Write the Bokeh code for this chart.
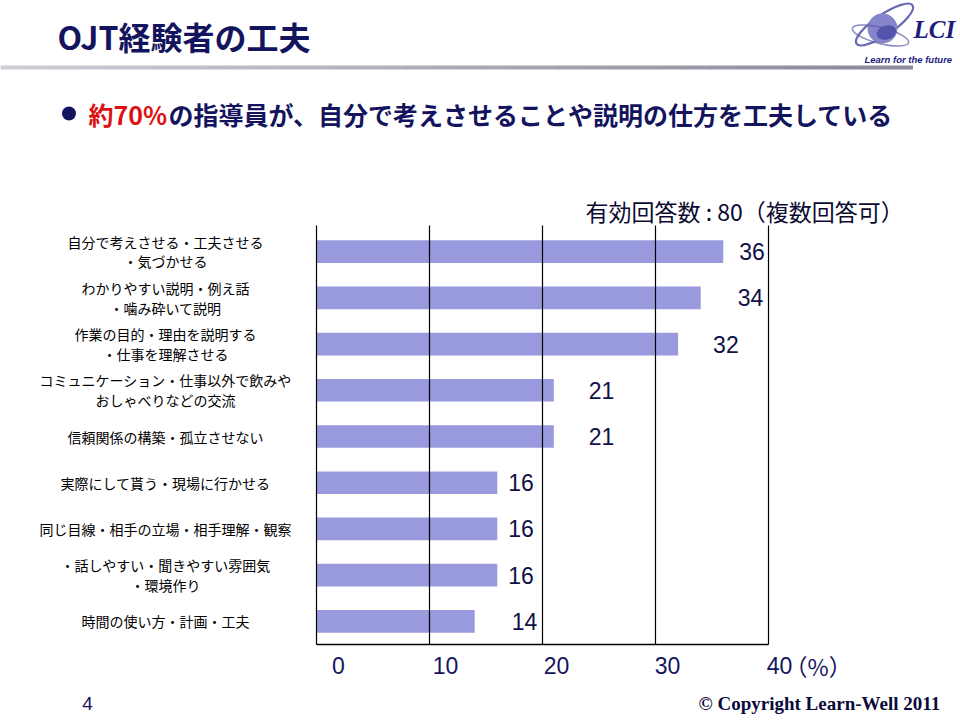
import numpy as np
from bokeh.plotting import figure
from bokeh.models import ColumnDataSource, Range1d
from bokeh.core.properties import value
from bokeh.embed import file_html
from bokeh.resources import INLINE

# ---------------- data ----------------
categories = [
    "自分で考えさせる・工夫させる\n・気づかせる",
    "わかりやすい説明・例え話\n・噛み砕いて説明",
    "作業の目的・理由を説明する\n・仕事を理解させる",
    "コミュニケーション・仕事以外で飲みや\nおしゃべりなどの交流",
    "信頼関係の構築・孤立させない",
    "実際にして貰う・現場に行かせる",
    "同じ目線・相手の立場・相手理解・観察",
    "・話しやすい・聞きやすい雰囲気\n・環境作り",
    "時間の使い方・計画・工夫",
]
counts = [36, 34, 32, 21, 21, 16, 16, 16, 14]
value_labels = ["36", "34", "32", "21", "21", "16", "16", "16", "14"]
x_ticks = [0, 10, 20, 30, 40]
tick_labels = ["0", "10", "20", "30", "40"]

title_text = "OJT経験者の工夫"
headline_red = "約70%"
headline_rest = "の指導員が、自分で考えさせることや説明の仕方を工夫している"
note_text = "有効回答数 : 80（複数回答可）"
unit_text = "（%）"
page_no = "4"
copyright_text = "© Copyright Learn-Well 2011"

# ---------------- style / layout ----------------
JP = "Noto Sans CJK JP"
SANS = "Liberation Sans"
SERIF = "Liberation Serif"
NAVY = "#14145e"
DARK = "#101048"
BAR = "#9999dd"

W, H = 960, 720
PLOT_L, PLOT_R, PLOT_T, PLOT_B = 316, 768, 228, 644
VAL_MAX = x_ticks[-1]
px_per_val = (PLOT_R - PLOT_L) / VAL_MAX
n_cat = len(categories)
px_per_cat = (PLOT_B - PLOT_T) / n_cat

p = figure(width=W, height=H,
           x_range=Range1d(0, W), y_range=Range1d(H, 0),
           output_backend="svg", toolbar_location=None, min_border=0,
           x_axis_location=None, y_axis_location=None)
p.grid.visible = False
p.outline_line_color = None
p.background_fill_color = "white"
p.border_fill_color = "white"

# chart scales (value axis and category axis)
p.extra_x_ranges = {"val": Range1d(-PLOT_L / px_per_val,
                                   VAL_MAX + (W - PLOT_R) / px_per_val)}
p.extra_y_ranges = {"cat": Range1d(n_cat - 0.5 + (H - PLOT_B) / px_per_cat,
                                   -0.5 - PLOT_T / px_per_cat)}

cat_pos = list(range(n_cat))
src = ColumnDataSource(dict(pos=cat_pos, cat=categories, val=counts, lab=value_labels,
                            dx=[16, 37, 35, 35, 35, 11, 11, 11, 37]))

# ---------------- header ----------------
p.text(x=[57], y=[35], text=[title_text], text_font=value(JP), text_font_style="bold",
       text_font_size="32px", text_color=NAVY, text_baseline="middle", text_align="left")

n = 36
edges = np.linspace(0, 912, n + 1)
c0 = np.array([205, 205, 212]); c1 = np.array([138, 138, 154])
cols = ["#%02x%02x%02x" % tuple(int(v) for v in (c0 + (c1 - c0) * (i / (n - 1)))) for i in range(n)]
p.quad(left=edges[:-1], right=edges[1:] + 0.5, top=[65] * n, bottom=[69] * n,
       fill_color=cols, line_color=None)

# logo
p.ellipse(x=[884], y=[24], width=[68], height=[20], angle=[0.6],
          fill_color=None, line_color="#6b6bb5", line_width=2.2)
p.circle(x=[882], y=[28], radius=15, fill_color="#8585cc", line_color=None)
p.ellipse(x=[886], y=[32], width=[20], height=[14], angle=[0.3],
          fill_color="#4a4aa6", line_color=None, fill_alpha=0.85)
p.ellipse(x=[880], y=[35], width=[58], height=[16], angle=[-0.25],
          fill_color=None, line_color="#5a5aa8", line_width=1.5, line_alpha=0.7)
p.text(x=[913], y=[29], text=["LCI"], text_font=value(SERIF), text_font_style="bold italic",
       text_font_size="25px", text_color="#1c1c80", text_baseline="middle", text_align="left")
p.text(x=[864], y=[59], text=["Learn for the future"], text_font=value(SANS),
       text_font_style="bold italic", text_font_size="9.5px", text_color="#1c1c80",
       text_baseline="middle", text_align="left")

# headline
p.circle(x=[68.5], y=[113], radius=7, fill_color=NAVY, line_color=None)
p.text(x=[88], y=[113], text=[headline_red], text_font=value(JP), text_font_style="bold",
       text_font_size="25px", text_color="#dd1111", text_baseline="middle", text_align="left")
p.text(x=[168], y=[113], text=[headline_rest], text_font=value(JP), text_font_style="bold",
       text_font_size="25px", text_color=NAVY, text_baseline="middle", text_align="left")

# note
p.text(x=[585], y=[210], text=[note_text], text_font=value(JP),
       text_font_size="23px", text_color="#0a0a30", text_baseline="middle", text_align="left")

# ---------------- chart ----------------
p.hbar(y="pos", left=0, right="val", height=0.49, source=src,
       fill_color=BAR, line_color=None, x_range_name="val", y_range_name="cat")

top_edge = -0.5 - 3 / px_per_cat
bottom_edge = n_cat - 0.5
p.segment(x0=x_ticks, x1=x_ticks, y0=[top_edge] * len(x_ticks), y1=[bottom_edge] * len(x_ticks),
          line_color="black", line_width=1.2, x_range_name="val", y_range_name="cat")
p.segment(x0=[0], x1=[VAL_MAX], y0=[bottom_edge], y1=[bottom_edge],
          line_color="black", line_width=1.3, x_range_name="val", y_range_name="cat")

# category labels: x in page pixels, y on the category scale
p.text(x=165, y="pos", text="cat", source=src, y_range_name="cat",
       text_font=value(JP), text_font_size="14px", text_color="black",
       text_align="center", text_baseline="middle", text_line_height=0.98)

# value labels
p.text(x="val", y="pos", text="lab", source=src, x_offset="dx",
       x_range_name="val", y_range_name="cat",
       text_font=value(SANS), text_font_size="23px", text_color=DARK,
       text_align="left", text_baseline="middle")

# tick labels: x on the value scale, y in page pixels
tsrc = ColumnDataSource(dict(x=x_ticks, lab=tick_labels, dx=[22, 16, 14, 12, 11]))
p.text(x="x", y=665, text="lab", source=tsrc, x_offset="dx", x_range_name="val",
       text_font=value(SANS), text_font_size="23px", text_color=NAVY,
       text_align="center", text_baseline="middle")
p.text(x=[VAL_MAX], y=[665], text=[unit_text], x_offset=16, x_range_name="val",
       text_font=value(JP), text_font_size="23px", text_color=NAVY,
       text_align="left", text_baseline="middle")

# footer
p.text(x=[87], y=[703], text=[page_no], text_font=value(SANS), text_font_size="19px",
       text_color=NAVY, text_align="center", text_baseline="middle")
p.text(x=[698], y=[703], text=[copyright_text], text_font=value(SERIF), text_font_style="bold",
       text_font_size="19px", text_color="#0a0a3a", text_align="left", text_baseline="middle")

open("out.html", "w").write(file_html(p, INLINE))
